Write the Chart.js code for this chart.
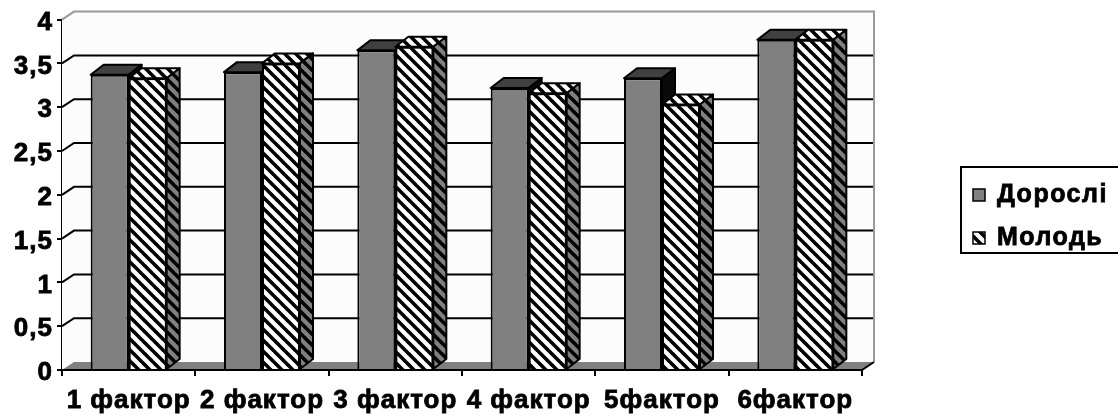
<!DOCTYPE html>
<html>
<head>
<meta charset="utf-8">
<script src="https://cdn.jsdelivr.net/npm/chart.js@4.4.1/dist/chart.umd.min.js"></script>
<style>
  html, body { margin: 0; padding: 0; background: #fff; }
  #myChart { display: block; }
</style>
</head>
<body>
<canvas id="myChart" width="1118" height="418"></canvas>
<script>
var categories = ['1 фактор', '2 фактор', '3 фактор', '4 фактор', '5фактор', '6фактор'];
var doroslValues = [3.37, 3.40, 3.65, 3.22, 3.33, 3.77];
var molodValues = [3.33, 3.50, 3.69, 3.16, 3.03, 3.77];
var seriesNames = ['Дорослі', 'Молодь'];
var yTicks = [0, 0.5, 1, 1.5, 2, 2.5, 3, 3.5, 4];

// depth offsets for the fake 3d look
var WALL_DX = 12, WALL_DY = -8;
var BAR_DX = 13, BAR_DY = -10;
var FONT = '"Liberation Sans", Arial, sans-serif';

function makeHatch(bg) {
  var s = 11;
  var c = document.createElement('canvas');
  c.width = s; c.height = s;
  var g = c.getContext('2d');
  g.fillStyle = bg;
  g.fillRect(0, 0, s, s);
  g.strokeStyle = '#000';
  g.lineWidth = 3.6;
  for (var k = -1; k <= 1; k++) {
    g.beginPath();
    g.moveTo(k * s - 1, -1);
    g.lineTo(k * s + s + 1, s + 1);
    g.stroke();
  }
  return g.createPattern(c, 'repeat');
}
var hatchWhite = makeHatch('#fff');
var hatchGray = makeHatch('#808080');

function poly(ctx, pts, fill, stroke, lw) {
  ctx.beginPath();
  ctx.moveTo(pts[0][0], pts[0][1]);
  for (var i = 1; i < pts.length; i++) ctx.lineTo(pts[i][0], pts[i][1]);
  ctx.closePath();
  if (fill) { ctx.fillStyle = fill; ctx.fill(); }
  if (stroke) { ctx.strokeStyle = stroke; ctx.lineWidth = lw || 2; ctx.stroke(); }
}

var wallPlugin = {
  id: 'wall',
  beforeUpdate: function (chart) { chart.ctx.letterSpacing = '1px'; },
  beforeDraw: function (chart) { chart.ctx.letterSpacing = '1px'; },
  beforeDatasetsDraw: function (chart) {
    var ctx = chart.ctx, a = chart.chartArea, y = chart.scales.y;
    var l = a.left, r = a.right, t = a.top, b = a.bottom;
    ctx.save();
    // back wall + left wall
    poly(ctx, [[l + WALL_DX, t + WALL_DY], [r + WALL_DX, t + WALL_DY], [r + WALL_DX, b + WALL_DY], [l + WALL_DX, b + WALL_DY]], '#fcfcfc');
    poly(ctx, [[l, t], [l + WALL_DX, t + WALL_DY], [l + WALL_DX, b + WALL_DY], [l, b]], '#fcfcfc');
    // grid lines
    ctx.strokeStyle = '#000';
    ctx.lineWidth = 2;
    yTicks.forEach(function (v) {
      if (v === 0 || v === 4) return;
      var py = y.getPixelForValue(v);
      ctx.beginPath();
      ctx.moveTo(l, py);
      ctx.lineTo(l + WALL_DX, py + WALL_DY);
      ctx.lineTo(r + WALL_DX, py + WALL_DY);
      ctx.stroke();
    });
    // wall border
    ctx.strokeStyle = '#9a9a9a';
    ctx.beginPath();
    ctx.moveTo(l, t);
    ctx.lineTo(l + WALL_DX, t + WALL_DY);
    ctx.lineTo(r + WALL_DX, t + WALL_DY);
    ctx.lineTo(r + WALL_DX, b + WALL_DY);
    ctx.stroke();
    // floor
    poly(ctx, [[l, b], [l + WALL_DX, b + WALL_DY], [r + WALL_DX, b + WALL_DY], [r, b]], '#808080');
    ctx.strokeStyle = '#000';
    ctx.beginPath();
    ctx.moveTo(l, b);
    ctx.lineTo(r, b);
    ctx.lineTo(r + WALL_DX, b + WALL_DY);
    ctx.stroke();
    ctx.restore();
  },
  afterDatasetsDraw: function (chart) {
    var ctx = chart.ctx;
    var m0 = chart.getDatasetMeta(0), m1 = chart.getDatasetMeta(1);
    var faces = [
      { top: '#404040', side: '#0a0a0a' },
      { top: hatchWhite, side: hatchGray }
    ];
    ctx.save();
    ctx.lineJoin = 'round';
    for (var i = 0; i < categories.length; i++) {
      [m0, m1].forEach(function (meta, k) {
        var el = meta.data[i];
        var p = el.getProps(['x', 'y', 'base', 'width'], true);
        var x0 = p.x - p.width / 2, x1 = p.x + p.width / 2;
        if (k === 1) el.draw(ctx);
        poly(ctx, [[x0, p.y], [x0 + BAR_DX, p.y + BAR_DY], [x1 + BAR_DX, p.y + BAR_DY], [x1, p.y]], faces[k].top, '#000', 2);
        poly(ctx, [[x1, p.y], [x1 + BAR_DX, p.y + BAR_DY], [x1 + BAR_DX, p.base + BAR_DY], [x1, p.base]], faces[k].side, '#000', 2);
      });
    }
    ctx.restore();
  },
  afterDraw: function (chart) {
    var ctx = chart.ctx;
    ctx.save();
    ctx.fillStyle = '#fff';
    ctx.fillRect(961, 167, 170, 86);
    ctx.strokeStyle = '#000';
    ctx.lineWidth = 2;
    ctx.strokeRect(961, 167, 170, 86);
    ctx.font = 'bold 25px ' + FONT;
    ctx.letterSpacing = '1.5px';
    ctx.textBaseline = 'middle';
    var fills = ['#808080', hatchWhite];
    chart.data.datasets.forEach(function (ds, k) {
      var cy = k === 0 ? 195 : 238;
      ctx.fillStyle = fills[k];
      ctx.fillRect(973, cy - 6, 12, 12);
      ctx.lineWidth = 1.5;
      ctx.strokeStyle = '#000';
      ctx.strokeRect(973, cy - 6, 12, 12);
      ctx.fillStyle = '#000';
      ctx.lineWidth = 0.8;
      ctx.strokeText(ds.label, 997, cy);
      ctx.fillText(ds.label, 997, cy);
    });
    ctx.restore();
  }
};

new Chart('myChart', {
  type: 'bar',
  data: {
    labels: categories,
    datasets: [{
      label: seriesNames[0],
      data: doroslValues,
      backgroundColor: '#808080',
      borderColor: '#000',
      borderWidth: 2
    }, {
      label: seriesNames[1],
      data: molodValues,
      backgroundColor: hatchWhite,
      borderColor: '#000',
      borderWidth: 2
    }]
  },
  options: {
    responsive: false,
    animation: false,
    events: [],
    categoryPercentage: 0.57,
    barPercentage: 1.0,
    layout: { padding: { left: 0, right: 256, top: 18, bottom: 0 } },
    plugins: { legend: { display: false }, tooltip: { enabled: false } },
    scales: {
      x: {
        afterFit: function (s) { s.height = 48; },
        grid: { offset: true, drawOnChartArea: false, tickLength: 6, color: '#000', lineWidth: 2 },
        border: { display: false },
        ticks: {
          color: '#000',
          padding: 9,
          textStrokeColor: '#000',
          textStrokeWidth: 0.8,
          font: { family: FONT, size: 26, weight: 'bold' }
        }
      },
      y: {
        min: 0,
        max: 4,
        afterFit: function (s) { s.width = 62; },
        afterBuildTicks: function (s) { s.ticks = yTicks.map(function (v) { return { value: v }; }); },
        grid: { drawOnChartArea: false, tickLength: 5, color: '#000', lineWidth: 2 },
        border: { display: true, color: '#000', width: 2 },
        ticks: {
          color: '#000',
          padding: 4,
          labelOffset: 3,
          textStrokeColor: '#000',
          textStrokeWidth: 0.8,
          font: { family: FONT, size: 26, weight: 'bold' },
          callback: function (v) { return String(v).replace('.', ','); }
        }
      }
    }
  },
  plugins: [wallPlugin]
});
</script>
</body>
</html>
